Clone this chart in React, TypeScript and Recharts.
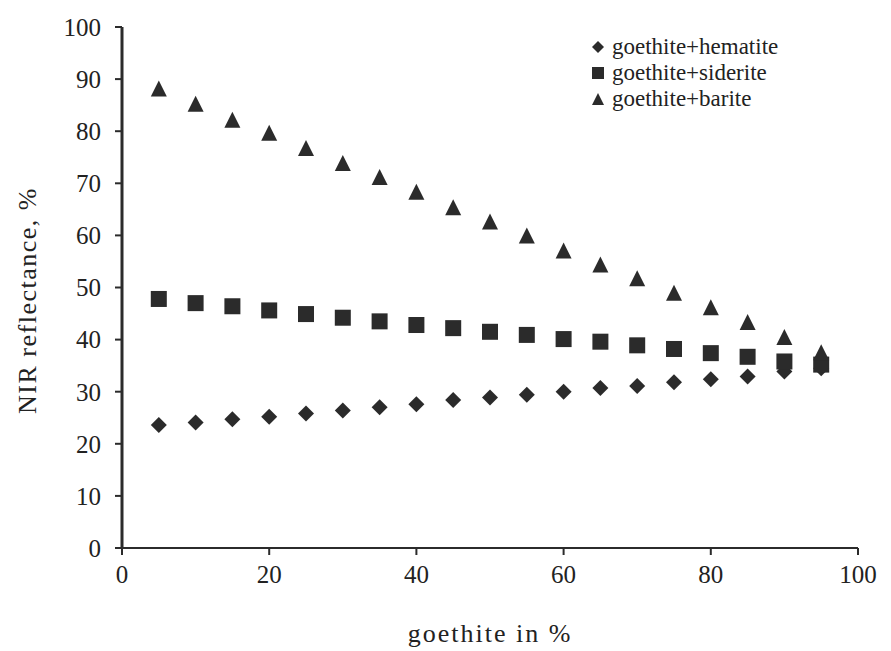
import { ScatterChart, Scatter, XAxis, YAxis } from "recharts";

const goethitePct = [5, 10, 15, 20, 25, 30, 35, 40, 45, 50, 55, 60, 65, 70, 75, 80, 85, 90, 95];
const hematite = [23.6, 24.1, 24.7, 25.2, 25.8, 26.4, 27.0, 27.6, 28.4, 28.9, 29.4, 30.0, 30.7, 31.1, 31.8, 32.4, 32.9, 33.9, 34.5];
const siderite = [47.8, 47.0, 46.4, 45.6, 44.9, 44.2, 43.5, 42.8, 42.2, 41.5, 40.9, 40.1, 39.6, 38.9, 38.2, 37.4, 36.7, 35.8, 35.2];
const barite = [88.0, 85.1, 82.0, 79.5, 76.6, 73.7, 71.0, 68.2, 65.2, 62.5, 59.8, 56.9, 54.2, 51.6, 48.8, 46.0, 43.2, 40.3, 37.4];
const xTicks = [0, 20, 40, 60, 80, 100];
const yTicks = [0, 10, 20, 30, 40, 50, 60, 70, 80, 90, 100];

const seriesNames = ["goethite+hematite", "goethite+siderite", "goethite+barite"];

const toPoints = (vals: number[]) => goethitePct.map((x, i) => ({ x, y: vals[i] }));

const INK = "#2b2b2b";
const FONT = "'Liberation Serif', 'DejaVu Serif', serif";

const Diamond = ({ cx, cy }: any) => (
  <polygon points={`${cx},${cy - 8} ${cx + 8},${cy} ${cx},${cy + 8} ${cx - 8},${cy}`} fill={INK} />
);
const Square = ({ cx, cy }: any) => <rect x={cx - 8} y={cy - 8} width={16} height={16} fill={INK} />;
const Triangle = ({ cx, cy }: any) => (
  <polygon points={`${cx},${cy - 9} ${cx + 8},${cy + 7} ${cx - 8},${cy + 7}`} fill={INK} />
);

const legendIcons = [
  <polygon points="6,0 12,6 6,12 0,6" fill={INK} />,
  <rect x={0} y={0} width={12} height={12} fill={INK} />,
  <polygon points="6,0 12,12 0,12" fill={INK} />,
];

// legend sits inside the plot, so draw it as an overlay instead of <Legend> (which eats plot width)
function LegendBox() {
  return (
    <div style={{ position: "absolute", left: 592, top: 34, fontFamily: FONT, fontSize: 23, color: "#222" }}>
      {seriesNames.map((name, i) => (
        <div key={name} style={{ display: "flex", alignItems: "center", height: 26 }}>
          <svg width={12} height={12} style={{ marginRight: 8 }}>
            {legendIcons[i]}
          </svg>
          <span>{name}</span>
        </div>
      ))}
    </div>
  );
}

// rotated y title, sits a bit below the plot's middle like the original
const YTitle = ({ viewBox }: any) => {
  const x = viewBox.x + 36;
  const y = viewBox.y + viewBox.height / 2 + 13;
  return (
    <text
      x={x}
      y={y}
      transform={`rotate(-90, ${x}, ${y})`}
      textAnchor="middle"
      fill="#222"
      fontSize={26}
      fontFamily={FONT}
      letterSpacing={1.5}
    >
      NIR reflectance, %
    </text>
  );
};

export default function App() {
  const tick = { fill: "#222", fontSize: 25, fontFamily: FONT };
  return (
    <div style={{ position: "absolute", left: 0, top: 0, background: "#fff" }}>
      <ScatterChart width={891} height={651} margin={{ top: 27, right: 33, left: 0, bottom: 4 }}>
        <XAxis
          type="number"
          dataKey="x"
          domain={[0, 100]}
          ticks={xTicks}
          tick={tick}
          tickSize={7}
          tickMargin={10}
          axisLine={{ stroke: INK, strokeWidth: 2 }}
          tickLine={{ stroke: INK, strokeWidth: 2 }}
          height={99}
          label={{ value: "goethite  in  %", position: "insideBottom", offset: 5, fill: "#222", fontSize: 26, fontFamily: FONT, style: { letterSpacing: 2 } }}
        />
        <YAxis
          type="number"
          dataKey="y"
          domain={[0, 100]}
          ticks={yTicks}
          tick={tick}
          tickSize={7}
          tickMargin={14}
          axisLine={{ stroke: INK, strokeWidth: 3 }}
          tickLine={{ stroke: INK, strokeWidth: 2 }}
          width={122}
          label={{ content: YTitle }}
        />
        <Scatter name={seriesNames[0]} data={toPoints(hematite)} shape={Diamond} isAnimationActive={false} />
        <Scatter name={seriesNames[1]} data={toPoints(siderite)} shape={Square} isAnimationActive={false} />
        <Scatter name={seriesNames[2]} data={toPoints(barite)} shape={Triangle} isAnimationActive={false} />
      </ScatterChart>
      <LegendBox />
    </div>
  );
}
